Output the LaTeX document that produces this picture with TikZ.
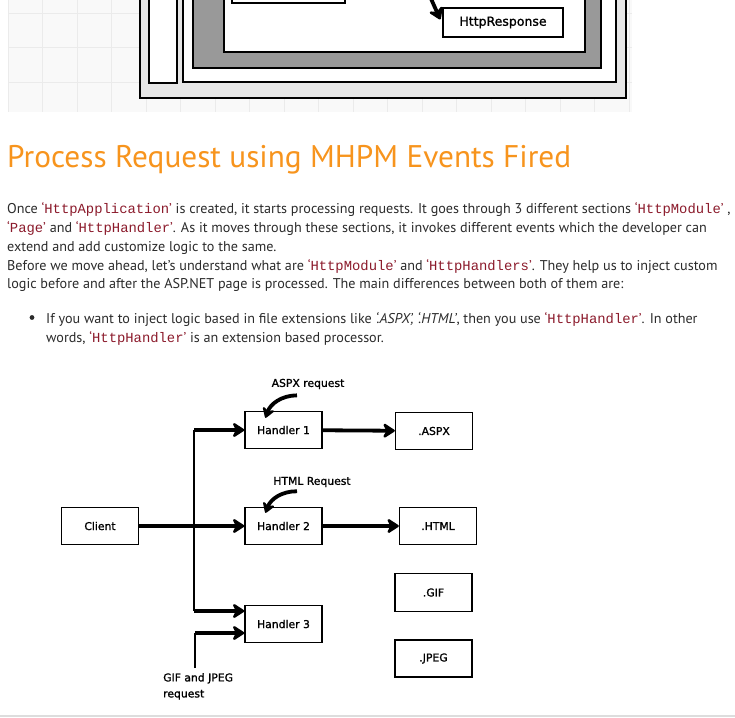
\documentclass[tikz,border=0pt]{standalone}
\usepackage{fontspec}
\setmainfont{PT Sans}
\setmonofont[Scale=0.98]{Liberation Mono}
\newfontfamily\sketchfont[FakeBold=1.2]{DejaVu Sans}
\usetikzlibrary{arrows.meta,positioning}
\definecolor{titleorange}{HTML}{F7941D}
\definecolor{bodytext}{HTML}{2B2B2B}
\definecolor{codered}{HTML}{8B1A2B}
\definecolor{gridbg}{HTML}{F9F9F9}
\definecolor{gridline}{HTML}{EBEBEB}
\definecolor{panelight}{HTML}{E6E6E6}
\definecolor{panedark}{HTML}{999999}
\definecolor{pagerule}{HTML}{DDDDDD}
\newcommand{\cw}[1]{{\color{codered}‘\texttt{#1}’}}

\begin{document}
\begin{tikzpicture}[x=1pt,y=1pt,
  para/.style={anchor=base west,inner sep=0pt,text=bodytext,font=\fontsize{14.15}{17}\selectfont},
  pane/.style={draw=black,line width=1.4pt},
  box/.style={draw=black,line width=1.4pt,minimum width=77pt,minimum height=37pt,inner sep=0pt,font=\sketchfont\fontsize{10.8}{13}\selectfont},
  lbl/.style={inner sep=0pt,font=\sketchfont\fontsize{10.8}{16}\selectfont},
  wire/.style={line width=1.6pt},
  flow/.style={line width=3.8pt,-{Stealth[length=14pt,width=18pt,round]}},
  hook/.style={line width=3.8pt,-{Stealth[length=12pt,width=15pt,round]}}]
\useasboundingbox (0,0) rectangle (735,-717);

% cropped picture from the previous section
\begin{scope}
\clip (0,0) rectangle (735,-112);
\fill[gridbg] (8,0) rectangle (632,-112);
\foreach \gx in {8,42.5,...,632} \draw[gridline] (\gx,0) -- (\gx,-112);
\foreach \gy in {13,47.5,82} \draw[gridline] (8,-\gy) -- (632,-\gy);
\filldraw[pane,fill=panelight] (140,5) rectangle (626,-98);
\filldraw[pane,fill=white] (149,5) rectangle (177,-83);
\filldraw[pane,fill=white] (183,5) rectangle (616,-82);
\filldraw[pane,fill=panedark] (193,5) rectangle (601,-68);
\filldraw[pane,fill=white] (224,5) rectangle (585,-52);
\draw[pane] (232,5) rectangle (345,-3);
\node[box,minimum width=120pt,minimum height=29pt,font=\sketchfont\fontsize{12.5}{15}\selectfont] (resp) at (503,-22.5) {HttpResponse};
\coordinate (respin) at (428,8);
\draw[flow] (respin) -- ([shift={(-2pt,3pt)}]resp.west);
\end{scope}

% article text
\node[anchor=base west,inner sep=0pt,text=titleorange,font=\fontsize{31.3}{36}\selectfont] (title) at (7,-167) {Process Request using MHPM Events Fired};
\node[para] (l1) at (7,-213) {Once \cw{HttpApplication} is created, it starts processing requests. It goes through 3 different sections \cw{HttpModule} ,};
\node[para] (l2) at (7,-232) {\cw{Page} and \cw{HttpHandler}. As it moves through these sections, it invokes different events which the developer can};
\node[para] (l3) at (7,-251) {extend and add customize logic to the same.};
\node[para] (l4) at (7,-270) {Before we move ahead, let’s understand what are \cw{HttpModule} and \cw{HttpHandlers}. They help us to inject custom};
\node[para] (l5) at (7,-288.5) {logic before and after the ASP.NET page is processed. The main differences between both of them are:};
\fill[bodytext] (32,-317.5) circle (2.4pt);
\node[para] (b1) at (46,-323) {If you want to inject logic based in file extensions like \textit{‘.ASPX’, ‘.HTML’}, then you use \cw{HttpHandler}. In other};
\node[para] (b2) at (46,-342) {words, \cw{HttpHandler} is an extension based processor.};

% handler diagram
\node[box] (client) at (100,-526) {Client};
\node[box] (h1) at (283.5,-430) {Handler 1};
\node[box] (h2) at (283.5,-526) {Handler 2};
\node[box] (h3) at (283.5,-624) {Handler 3};
\node[box] (aspx) at (434,-431) {.ASPX};
\node[box] (html) at (438,-526) {.HTML};
\node[box,minimum height=38pt] (gif) at (433.5,-592.5) {.GIF};
\node[box] (jpeg) at (433.5,-658.5) {.JPEG};
\node[lbl] (aspxreq) at (308,-384) {ASPX request};
\node[lbl] (htmlreq) at (312,-482) {HTML Request};
\node[lbl,align=left,anchor=north west] (gjreq) at (163,-673) {GIF and JPEG\\request};

\coordinate (bus) at (194,-527);
\coordinate (h3top) at ([yshift=13pt]h3.west);
\coordinate (h3low) at ([yshift=-9pt]h3.west);
\coordinate (gjtop) at (195,-668);
\draw[wire] (bus |- h1.west) -- (bus |- h3top);
\draw[flow] (bus |- h1.west) -- (h1.west);
\draw[flow] (client) -- (h2);
\draw[flow] (bus |- h3top) -- (h3top);
\draw[wire] (gjtop) -- (gjtop |- h3low);
\draw[flow] (gjtop |- h3low) -- (h3low);
\draw[flow] (h1) -- (aspx);
\draw[flow] (h2) -- (html);
\draw[hook] ([shift={(-11pt,-6pt)}]aspxreq.south) to[bend right=35] ([shift={(-18pt,-7pt)}]h1.north);
\draw[hook] ([shift={(-15pt,-4pt)}]htmlreq.south) to[bend right=35] ([shift={(-18pt,-6pt)}]h2.north);

\draw[pagerule,line width=2pt] (0,-715.5) -- (735,-715.5);
\end{tikzpicture}
\end{document}
